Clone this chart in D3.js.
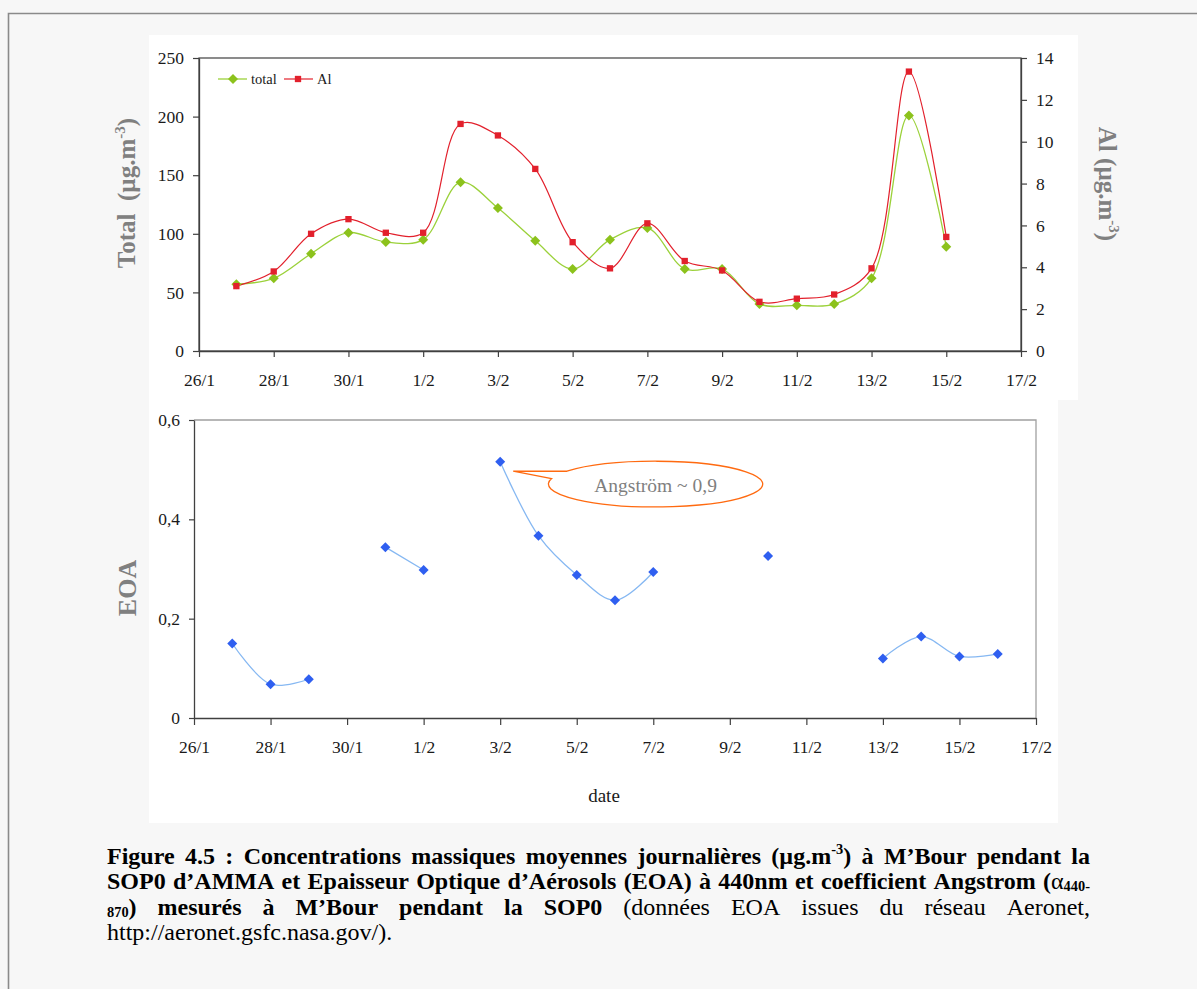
<!DOCTYPE html>
<html><head><meta charset="utf-8">
<script src="https://cdn.jsdelivr.net/npm/d3@7"></script>
<style>
body{margin:0;background:#f7f7f7;}
svg{display:block;}
text{font-family:"Liberation Serif","Times New Roman",serif;}
</style>
</head><body>
<svg id="c" width="1197" height="989"></svg>
<script>
// ---------------- DATA ----------------
const dates = ["27/1","28/1","29/1","30/1","31/1","1/2","2/2","3/2","4/2","5/2","6/2","7/2","8/2","9/2","10/2","11/2","12/2","13/2","14/2","15/2","16/2"];
const totalValues = [57, 62, 83, 101, 93, 95, 144, 122, 94, 70, 95, 105, 70, 70, 40, 39, 40, 62, 201, 89, null];
const alValues = [3.1, 3.8, 5.6, 6.3, 5.65, 5.65, 10.85, 10.3, 8.7, 5.2, 3.95, 6.1, 4.3, 3.85, 2.35, 2.5, 2.7, 3.95, 13.35, 5.45, null];
const eoaValues = [0.150, 0.068, 0.078, null, 0.344, 0.298, null, 0.516, 0.367, 0.288, 0.237, 0.294, null, null, 0.326, null, null, 0.120, 0.164, 0.124, 0.129];
const xTickLabels = ["26/1","28/1","30/1","1/2","3/2","5/2","7/2","9/2","11/2","13/2","15/2","17/2"];
const totalTicks = [0, 50, 100, 150, 200, 250];
const alTicks = [0, 2, 4, 6, 8, 10, 12, 14];
const eoaTicks = [0, 0.2, 0.4, 0.6];
const seriesNames = ["total", "Al"];
const annotationText = "Angström ~ 0,9";
const captionLines = [
  [[["Figure",1]],[["4.5",1]],[[":",1]],[["Concentrations",1]],[["massiques",1]],[["moyennes",1]],[["journalières",1]],[["(µg.m",1],["-3",1,"sup"],[")",1]],[["à",1]],[["M’Bour",1]],[["pendant",1]],[["la",1]]],
  [[["SOP0",1]],[["d’AMMA",1]],[["et",1]],[["Epaisseur",1]],[["Optique",1]],[["d’Aérosols",1]],[["(EOA)",1]],[["à",1]],[["440nm",1]],[["et",1]],[["coefficient",1]],[["Angstrom",1]],[["(",1],["α",0],["440-",1,"sub"]]],
  [[["870",1,"sub"],[")",1]],[["mesurés",1]],[["à",1]],[["M’Bour",1]],[["pendant",1]],[["la",1]],[["SOP0",1]],[["(données",0]],[["EOA",0]],[["issues",0]],[["du",0]],[["réseau",0]],[["Aeronet,",0]]],
  [[["http://aeronet.gsfc.nasa.gov/).",0]]]
];

// ---------------- SETUP ----------------
const svg = d3.select("#c");
const parse = s => { const [d,m] = s.split("/").map(Number); return new Date(Date.UTC(2006, m-1, d)); };
const DAY = 86400000;
const fmtComma = d3.formatLocale({decimal:",", thousands:" ", grouping:[3], currency:["",""]}).format("~g");
const axisColor = "#404040", tickTextColor = "#1a1a1a";

function rich(sel, segs, size, subShift){
  let shift = 0;
  segs.forEach(s => {
    const ts = sel.append("tspan").text(s[0]);
    const target = s[2]==="sup" ? -size*0.4 : s[2]==="sub" ? size*(subShift||0.18) : 0;
    ts.attr("dy", target - shift); shift = target;
    if (s[2]) ts.attr("font-size", size*0.6);
    ts.attr("font-weight", s[1] ? "bold" : "normal");
  });
}

// page frame
svg.append("path").attr("d","M8.5,989 V13.5 H1197").attr("fill","none").attr("stroke","#8a8a8a").attr("stroke-width",1.6);
// white chart areas
svg.append("rect").attr("x",149).attr("y",35).attr("width",929).attr("height",365).attr("fill","#fff");
svg.append("rect").attr("x",149).attr("y",400).attr("width",909).attr("height",423).attr("fill","#fff");

// ---------------- TOP CHART ----------------
const xTop = d3.scaleUtc().domain([parse("26/1"), parse("17/2")]).range([199, 1021]);
const yTotal = d3.scaleLinear().domain([0,250]).range([351, 58]);
const yAl = d3.scaleLinear().domain([0,14]).range([351, 58]);

const topG = svg.append("g");
topG.append("rect").attr("x",199).attr("y",58).attr("width",822).attr("height",293)
  .attr("fill","none").attr("stroke",axisColor).attr("stroke-width",1.2);

function styleAxis(g, size){
  g.selectAll("path.domain").attr("stroke",axisColor).attr("stroke-width",1.3);
  g.selectAll(".tick line").attr("stroke",axisColor).attr("stroke-width",1.2);
  g.selectAll(".tick text").attr("fill",tickTextColor).attr("font-size",size)
    .attr("font-family","Liberation Serif, Times New Roman, serif");
}
const xTickDates = xTickLabels.map(parse);
const gxTop = topG.append("g").attr("transform","translate(0,351)")
  .call(d3.axisBottom(xTop).tickValues(xTickDates).tickFormat((d,i)=>xTickLabels[i]).tickSize(6).tickSizeOuter(0).tickPadding(17));
styleAxis(gxTop, 17.5);
const gyTot = topG.append("g").attr("transform","translate(199,0)")
  .call(d3.axisLeft(yTotal).tickValues(totalTicks).tickSize(6).tickSizeOuter(0).tickPadding(9));
styleAxis(gyTot, 17.5);
const gyAl = topG.append("g").attr("transform","translate(1021,0)")
  .call(d3.axisRight(yAl).tickValues(alTicks).tickSize(6).tickSizeOuter(0).tickPadding(9));
styleAxis(gyAl, 17.5);

const curve = d3.curveCatmullRom.alpha(0.5);
const totalData = dates.map((d,i)=>({date:parse(d), v:totalValues[i]}));
const alData = dates.map((d,i)=>({date:parse(d), v:alValues[i]}));
const green = "#8cc21c", greenLine = "#9bd13a", red = "#e2202c", blue = "#2f5ff0", blueLine = "#86b8f2";

topG.append("path").datum(totalData)
  .attr("d", d3.line().defined(d=>d.v!=null).x(d=>xTop(d.date)).y(d=>yTotal(d.v)).curve(curve))
  .attr("fill","none").attr("stroke",greenLine).attr("stroke-width",1.3);
topG.append("path").datum(alData)
  .attr("d", d3.line().defined(d=>d.v!=null).x(d=>xTop(d.date)).y(d=>yAl(d.v)).curve(curve))
  .attr("fill","none").attr("stroke",red).attr("stroke-width",1.2);

const diamond = d3.symbol().type(d3.symbolSquare).size(50)();
const square = d3.symbol().type(d3.symbolSquare).size(40)();
topG.selectAll(".mt").data(totalData.filter(d=>d.v!=null)).join("path")
  .attr("d",diamond).attr("fill",green)
  .attr("transform",d=>`translate(${xTop(d.date)},${yTotal(d.v)}) rotate(45)`);
topG.selectAll(".ma").data(alData.filter(d=>d.v!=null)).join("path")
  .attr("d",square).attr("fill",red)
  .attr("transform",d=>`translate(${xTop(d.date)},${yAl(d.v)})`);

// legend
const lg = topG.append("g").attr("transform","translate(218,79)");
lg.append("line").attr("x1",0).attr("x2",29).attr("stroke",greenLine).attr("stroke-width",1.3);
lg.append("path").attr("d",diamond).attr("fill",green).attr("transform","translate(15,0) rotate(45)");
lg.append("text").attr("x",33).attr("y",5).attr("font-size",14.5).attr("fill",tickTextColor).text(seriesNames[0]);
lg.append("line").attr("x1",66).attr("x2",95).attr("stroke",red).attr("stroke-width",1.2);
lg.append("path").attr("d",square).attr("fill",red).attr("transform","translate(80,0)");
lg.append("text").attr("x",99).attr("y",5).attr("font-size",14.5).attr("fill",tickTextColor).text(seriesNames[1]);

// axis titles
const tl = topG.append("text").attr("transform","translate(135,193) rotate(-90)").attr("text-anchor","middle")
  .attr("font-size",25).attr("fill","#808080").style("white-space","pre");
rich(tl, [["Total  (µg.m",1],["-3",1,"sup"],[")",1]], 25);
const tr = topG.append("text").attr("transform","translate(1099,184) rotate(90)").attr("text-anchor","middle")
  .attr("font-size",25).attr("fill","#808080");
rich(tr, [["Al (µg.m",1],["-3",1,"sup"],[")",1]], 25);

// ---------------- BOTTOM CHART ----------------
const xBot = d3.scaleUtc().domain([parse("26/1"), parse("17/2")]).range([194, 1036]);
const yEoa = d3.scaleLinear().domain([0,0.6]).range([718, 420]);
const botG = svg.append("g");
botG.append("path").attr("d",`M194,420 H1036 V718`).attr("fill","none").attr("stroke","#a0a0a0").attr("stroke-width",1.3);
const gxBot = botG.append("g").attr("transform","translate(0,718)")
  .call(d3.axisBottom(xBot).tickValues(xTickDates).tickFormat((d,i)=>xTickLabels[i]).tickSize(7).tickSizeOuter(0).tickPadding(16));
styleAxis(gxBot, 17.5);
const gyBot = botG.append("g").attr("transform","translate(194,0)")
  .call(d3.axisLeft(yEoa).tickValues(eoaTicks).tickFormat(fmtComma).tickSize(5).tickSizeOuter(0).tickPadding(9));
styleAxis(gyBot, 17.5);

const eoaData = dates.map((d,i)=>({date:parse(d), v:eoaValues[i]}));
botG.append("path").datum(eoaData)
  .attr("d", d3.line().defined(d=>d.v!=null).x(d=>xBot(d.date)).y(d=>yEoa(d.v)).curve(curve))
  .attr("fill","none").attr("stroke",blueLine).attr("stroke-width",1.3);
const diamondB = d3.symbol().type(d3.symbolSquare).size(50)();
botG.selectAll(".me").data(eoaData.filter(d=>d.v!=null)).join("path")
  .attr("d",diamondB).attr("fill",blue)
  .attr("transform",d=>`translate(${xBot(d.date)},${yEoa(d.v)}) rotate(45)`);

botG.append("text").attr("transform","translate(136,588) rotate(-90)").attr("text-anchor","middle")
  .attr("font-size",26).attr("font-weight","bold").attr("fill","#808080").text("EOA");
botG.append("text").attr("x",604).attr("y",802).attr("text-anchor","middle").attr("font-size",19)
  .attr("fill",tickTextColor).text("date");

// callout annotation (anchored through the scales)
const tipX = xBot(+parse("3/2") + 0.34*DAY), tipY = yEoa(0.497);
const cx = xBot(+parse("7/2") + 0.06*DAY), cy = yEoa(0.471);
const rx = xBot(+parse("26/1") + 2.8*DAY) - xBot(parse("26/1"));
const ry = yEoa(0) - yEoa(0.046);
const pt = a => [cx + rx*Math.cos(a), cy + ry*Math.sin(a)];
const p1 = pt(Math.PI + Math.acos(0.827));
const p2 = pt(Math.PI + Math.acos(0.970));
botG.append("path")
  .attr("d",`M${tipX},${tipY} L${p1[0]},${p1[1]} A${rx},${ry} 0 1 1 ${p2[0]},${p2[1]} Z`)
  .attr("fill","#fff").attr("stroke","#ff6a10").attr("stroke-width",1.3);
botG.append("text").attr("x",cx).attr("y",cy+7.5).attr("text-anchor","middle").attr("font-size",19.5)
  .attr("fill","#7f7f7f").text(annotationText);

// ---------------- CAPTION ----------------
const capX0 = 107, capX1 = 1090, capSize = 24;
const baselines = [864, 889, 915, 940];
captionLines.forEach((words, li) => {
  const nodes = words.map(w => {
    const t = svg.append("text").attr("y", baselines[li]).attr("font-size",capSize).attr("fill","#000")
      .style("white-space","pre");
    rich(t, w, capSize, 0.09);
    return t;
  });
  const widths = nodes.map(n => n.node().getComputedTextLength());
  const total = d3.sum(widths);
  const justify = li < captionLines.length - 1;
  const gap = justify ? (capX1 - capX0 - total) / (words.length - 1) : capSize*0.25;
  let x = capX0;
  nodes.forEach((n,i) => { n.attr("x", x); x += widths[i] + gap; });
});
</script>
</body></html>
